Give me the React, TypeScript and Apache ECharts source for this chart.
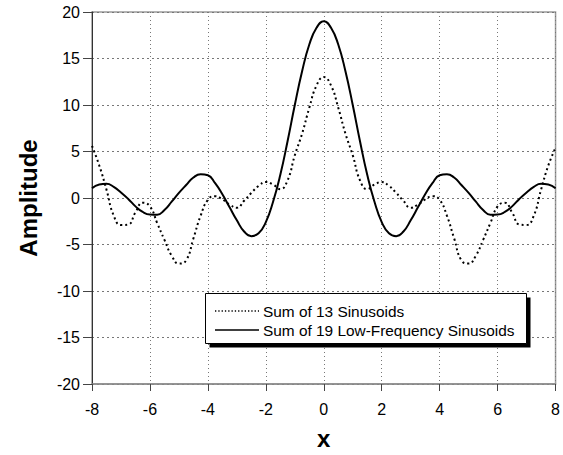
import React, { useEffect, useRef } from "react";
import * as echarts from "echarts";

const xValues: number[] = [
  -8, -7.75, -7.5, -7.25, -7, -6.75, -6.5, -6.25, -6, -5.75, -5.5, -5.25, -5, -4.75, -4.5, -4.25,
  -4, -3.75, -3.5, -3.25, -3, -2.75, -2.5, -2.25, -2, -1.75, -1.5, -1.25, -1, -0.75, -0.5, -0.25,
  0, 0.25, 0.5, 0.75, 1, 1.25, 1.5, 1.75, 2, 2.25, 2.5, 2.75, 3, 3.25, 3.5, 3.75,
  4, 4.25, 4.5, 4.75, 5, 5.25, 5.5, 5.75, 6, 6.25, 6.5, 6.75, 7, 7.25, 7.5, 7.75, 8,
];

const sum13: number[] = [
  5.6, 3.5, 0.9, -1.9, -2.9, -2.85, -1.55, -0.5, -0.9, -2.7, -4.5, -6.2, -7.05, -6.7, -4.35, -1.9,
  -0.2, 0.2, -0.15, -0.7, -1.05, -0.3, 0.55, 1.3, 1.72, 1.44, 0.95, 1.9, 4.6, 6.9, 9.7, 12.1,
  13.0, 12.1, 9.7, 6.9, 4.6, 1.9, 0.95, 1.44, 1.72, 1.3, 0.55, -0.3, -1.05, -0.7, -0.15, 0.2,
  -0.2, -1.9, -4.35, -6.7, -7.05, -6.2, -4.5, -2.7, -0.9, -0.5, -1.55, -2.85, -2.9, -1.9, 0.9, 3.5, 5.4,
];

const sum19: number[] = [
  1.05, 1.45, 1.52, 1.2, 0.6, -0.1, -0.9, -1.5, -1.78, -1.8, -1.3, -0.4, 0.55, 1.4, 2.2, 2.55,
  2.45, 1.6, 0.4, -1.0, -2.4, -3.6, -4.1, -3.8, -2.6, -0.4, 2.5, 6.1, 10.0, 13.6, 16.5, 18.3,
  19.0, 18.3, 16.5, 13.6, 10.0, 6.1, 2.5, -0.4, -2.6, -3.8, -4.1, -3.6, -2.4, -1.0, 0.4, 1.6,
  2.45, 2.55, 2.2, 1.4, 0.55, -0.4, -1.3, -1.8, -1.78, -1.5, -0.9, -0.1, 0.6, 1.2, 1.52, 1.45, 1.05,
];

const seriesNames: string[] = ["Sum of 13 Sinusoids", "Sum of 19 Low-Frequency Sinusoids"];
const xAxisTitle = "x";
const yAxisTitle = "Amplitude";

const FONT = "'Liberation Sans', Arial, Helvetica, sans-serif";

export default function App() {
  const ref = useRef<HTMLDivElement>(null);

  useEffect(() => {
    document.body.style.margin = "0";
    if (!ref.current) return;
    const chart = echarts.init(ref.current, null, { renderer: "svg" });
    const pairs = (ys: number[]) => xValues.map((x, i) => [x, ys[i]]);

    const legendLeft = 205.5;
    const legendTop = 293.5;
    const legendW = 321;
    const legendH = 50;
    const row1 = 311;
    const row2 = 330;

    chart.setOption({
      animation: false,
      backgroundColor: "#ffffff",
      grid: {
        left: 92,
        right: 7,
        top: 12,
        bottom: 68,
        show: true,
        borderColor: "#9a9a9a",
        borderWidth: 1.5,
        backgroundColor: "transparent",
      },
      xAxis: {
        type: "value",
        min: -8,
        max: 8,
        interval: 2,
        name: xAxisTitle,
        nameLocation: "middle",
        nameGap: 42,
        nameTextStyle: { fontFamily: FONT, fontSize: 24, fontWeight: "bold", color: "#000" },
        axisLine: { show: true, onZero: false, lineStyle: { color: "#8a8a8a", width: 1.5 } },
        axisTick: { show: true, length: 7, lineStyle: { color: "#444" } },
        axisLabel: { margin: 17, fontFamily: FONT, fontSize: 16, color: "#000" },
        splitLine: { show: true, lineStyle: { color: "#777", type: [1, 3], width: 1 } },
      },
      yAxis: {
        type: "value",
        min: -20,
        max: 20,
        interval: 5,
        name: yAxisTitle,
        nameLocation: "middle",
        nameGap: 52,
        nameRotate: 90,
        nameTextStyle: { fontFamily: FONT, fontSize: 24, fontWeight: "bold", color: "#000" },
        axisLine: { show: true, onZero: false, lineStyle: { color: "#333", width: 1 } },
        axisTick: { show: true, length: 9, lineStyle: { color: "#444" } },
        axisLabel: { margin: 12, fontFamily: FONT, fontSize: 16, color: "#000" },
        splitLine: { show: true, lineStyle: { color: "#777", type: [2, 3], width: 1 } },
      },
      graphic: [
        {
          type: "rect",
          z: 10,
          shape: { x: legendLeft + 4, y: legendTop + 4, width: legendW, height: legendH },
          style: { fill: "#000" },
        },
        {
          type: "rect",
          z: 11,
          shape: { x: legendLeft, y: legendTop, width: legendW, height: legendH },
          style: { fill: "#fff", stroke: "#000", lineWidth: 1 },
        },
        {
          type: "line",
          z: 12,
          shape: { x1: 215, y1: row1, x2: 259, y2: row1 },
          style: { stroke: "#000", lineWidth: 1.3, lineDash: [1.3, 2] },
        },
        {
          type: "line",
          z: 12,
          shape: { x1: 215, y1: row2, x2: 259, y2: row2 },
          style: { stroke: "#000", lineWidth: 1.5 },
        },
        {
          type: "text",
          z: 12,
          style: {
            x: 263,
            y: row1,
            text: seriesNames[0],
            fill: "#000",
            font: `15.4px ${FONT}`,
            verticalAlign: "middle",
            align: "left",
          },
        },
        {
          type: "text",
          z: 12,
          style: {
            x: 263,
            y: row2,
            text: seriesNames[1],
            fill: "#000",
            font: `15.4px ${FONT}`,
            verticalAlign: "middle",
            align: "left",
          },
        },
      ],
      series: [
        {
          name: seriesNames[0],
          type: "line",
          data: pairs(sum13),
          smooth: true,
          symbol: "none",
          showSymbol: false,
          lineStyle: { color: "#000", width: 2, type: [2, 3] },
          itemStyle: { color: "#000" },
        },
        {
          name: seriesNames[1],
          type: "line",
          data: pairs(sum19),
          smooth: true,
          symbol: "none",
          showSymbol: false,
          lineStyle: { color: "#000", width: 2, type: "solid" },
          itemStyle: { color: "#000" },
        },
      ],
    });

    return () => chart.dispose();
  }, []);

  return (
    <div
      ref={ref}
      style={{ position: "fixed", left: 0, top: 0, width: 563, height: 455, background: "#fff" }}
    />
  );
}
